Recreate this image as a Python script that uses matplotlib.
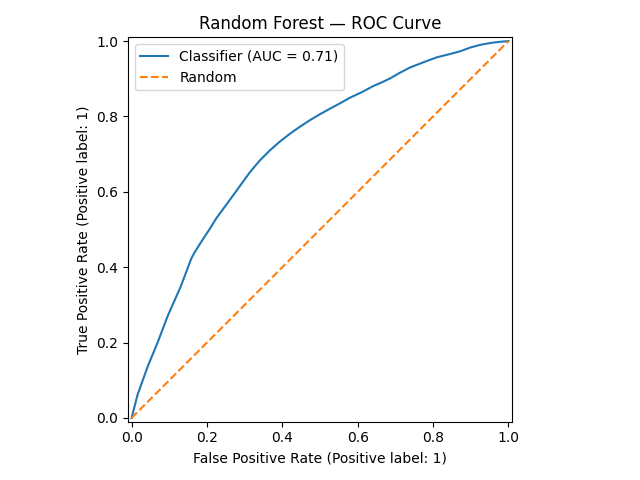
import numpy as np
import matplotlib
matplotlib.use("Agg")
import matplotlib.pyplot as plt

# ROC points
fpr = [0.0, 0.016, 0.043, 0.069, 0.096, 0.131, 0.158, 0.167, 0.184,
       0.207, 0.225, 0.247, 0.269, 0.290, 0.314, 0.340, 0.367, 0.393, 0.420,
       0.447, 0.473, 0.500, 0.527, 0.555, 0.580, 0.610, 0.642, 0.665, 0.686,
       0.712, 0.739, 0.775, 0.810, 0.846, 0.872, 0.899, 0.925, 0.952, 0.976,
       1.0]
tpr = [0.0, 0.062, 0.137, 0.200, 0.271, 0.350, 0.422, 0.439, 0.466,
       0.501, 0.530, 0.560, 0.590, 0.619, 0.652, 0.683, 0.710, 0.733, 0.754,
       0.773, 0.790, 0.806, 0.821, 0.836, 0.850, 0.864, 0.881, 0.891, 0.901,
       0.916, 0.930, 0.944, 0.957, 0.966, 0.973, 0.983, 0.990, 0.995, 0.998,
       1.0]
roc_auc = 0.71
chance = [0, 1]

fig, ax = plt.subplots(figsize=(6.4, 4.8), dpi=100)

ax.plot(fpr, tpr, label=f"Classifier (AUC = {roc_auc:.2f})")
ax.plot(chance, chance, linestyle="--", label="Random")

ax.set_xlim(-0.01, 1.01)
ax.set_ylim(-0.01, 1.01)
ax.set_aspect("equal")
ax.set_xlabel("False Positive Rate (Positive label: 1)")
ax.set_ylabel("True Positive Rate (Positive label: 1)")
ax.set_title("Random Forest — ROC Curve")
ax.legend(loc="upper left")

plt.tight_layout()
plt.savefig("out.png", dpi=100)
